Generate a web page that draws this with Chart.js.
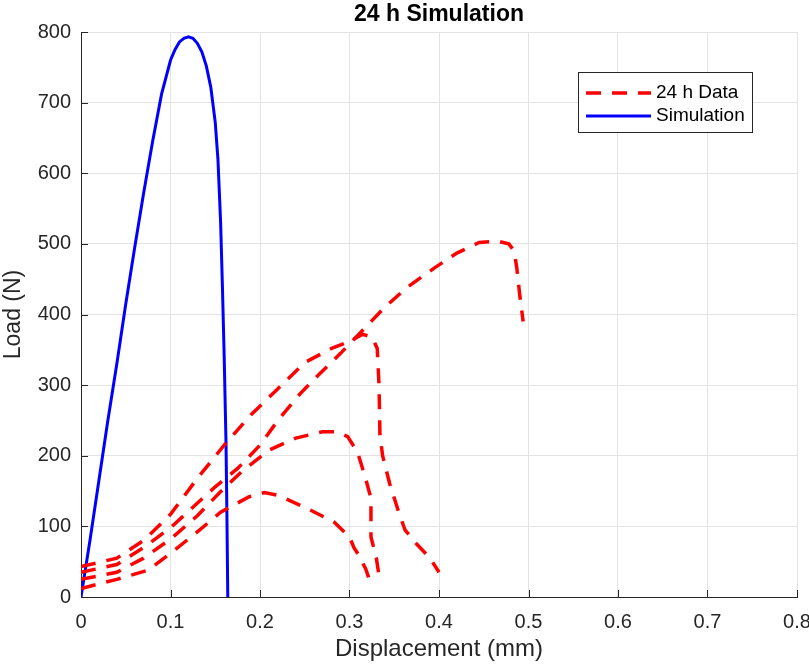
<!DOCTYPE html>
<html>
<head>
<meta charset="utf-8">
<script src="https://cdn.jsdelivr.net/npm/chart.js@4.4.1/dist/chart.umd.min.js"></script>
<style>
  html, body { margin: 0; padding: 0; background: #fff; }
  #wrap { width: 809px; height: 664px; }
</style>
</head>
<body>
<div id="wrap"><canvas id="load-chart" width="809" height="664"></canvas></div>
<script>
// Simulation curve (displacement in mm, load in N)
const simX = [0, 0.01, 0.02, 0.03, 0.04, 0.05, 0.06, 0.07, 0.08, 0.09, 0.1, 0.105, 0.11, 0.115, 0.12, 0.125, 0.13, 0.135, 0.14, 0.145, 0.15, 0.153, 0.156, 0.158, 0.16, 0.162, 0.163, 0.164];
const simLoad = [0, 80, 165, 250, 330, 415, 495, 572, 645, 712, 760, 775, 786, 791, 793, 791, 784, 772, 752, 722, 672, 620, 530, 440, 340, 220, 120, 0];

// 24 h test specimens
const specAX = [0, 0.04, 0.07, 0.1, 0.125, 0.15, 0.175, 0.2, 0.22, 0.245, 0.265, 0.29, 0.315, 0.34, 0.365, 0.395, 0.42, 0.445, 0.465, 0.478, 0.484, 0.487, 0.49, 0.494];
const specALoad = [35, 46, 70, 98, 127, 156, 182, 215, 250, 288, 314, 345, 378, 411, 439, 466, 487, 502, 504, 500, 490, 465, 430, 390];

const specBX = [0, 0.04, 0.07, 0.1, 0.13, 0.16, 0.19, 0.22, 0.25, 0.28, 0.3, 0.315, 0.325, 0.331, 0.333, 0.334, 0.337, 0.345, 0.355, 0.362, 0.375, 0.39, 0.4];
const specBLoad = [43, 55, 80, 117, 168, 215, 258, 295, 332, 352, 362, 372, 368, 352, 300, 230, 200, 160, 120, 95, 75, 55, 35];

const specCX = [0, 0.04, 0.07, 0.1, 0.13, 0.155, 0.18, 0.21, 0.24, 0.27, 0.285, 0.298, 0.309, 0.317, 0.324, 0.324, 0.33, 0.333];
const specCLoad = [25, 35, 55, 82, 115, 148, 178, 208, 225, 234, 234, 227, 205, 172, 140, 85, 55, 30];

const specDX = [0, 0.04, 0.075, 0.1, 0.128, 0.156, 0.188, 0.205, 0.22, 0.25, 0.283, 0.3, 0.305, 0.31, 0.318, 0.323];
const specDLoad = [12, 25, 38, 62, 90, 120, 142, 148, 144, 127, 106, 85, 70, 60, 40, 22];

const xTicks = [0, 0.1, 0.2, 0.3, 0.4, 0.5, 0.6, 0.7, 0.8];
const yTicks = [0, 100, 200, 300, 400, 500, 600, 700, 800];

const axisColor = '#262626';
const fontFamily = '"Liberation Sans", Arial, sans-serif';
const dataDash = [15, 11];

function toPoints(xs, ys) {
    return xs.map((x, i) => ({ x: x, y: ys[i] }));
}

function dataSet(label, xs, ys) {
    return {
        label: label,
        data: toPoints(xs, ys),
        borderColor: '#ff0000',
        borderWidth: 3.5,
        borderDash: dataDash,
        pointRadius: 0,
        showLine: true,
        fill: false,
        tension: 0
    };
}

// inward tick marks on the left and bottom axes
const innerTicks = {
    id: 'innerTicks',
    beforeDatasetsDraw(chart) {
        const ctx = chart.ctx;
        const area = chart.chartArea;
        const xs = chart.scales.x, ys = chart.scales.y;
        ctx.save();
        ctx.strokeStyle = axisColor;
        ctx.lineWidth = 1;
        ctx.beginPath();
        xTicks.forEach(v => {
            const px = Math.round(xs.getPixelForValue(v)) + 0.5;
            ctx.moveTo(px, area.bottom);
            ctx.lineTo(px, area.bottom - 7);
        });
        yTicks.forEach(v => {
            const py = Math.round(ys.getPixelForValue(v)) + 0.5;
            ctx.moveTo(area.left, py);
            ctx.lineTo(area.left + 7, py);
        });
        ctx.stroke();
        ctx.restore();
    }
};

// title centred over the plot area
const plotTitle = {
    id: 'plotTitle',
    afterDraw(chart) {
        const ctx = chart.ctx;
        const area = chart.chartArea;
        ctx.save();
        ctx.fillStyle = '#000000';
        ctx.font = 'bold 23px ' + fontFamily;
        ctx.textAlign = 'center';
        ctx.textBaseline = 'middle';
        ctx.fillText('24 h Simulation', (area.left + area.right) / 2, 15);
        ctx.restore();
    }
};

// boxed legend in the upper right of the plot
const boxLegend = {
    id: 'boxLegend',
    afterDraw(chart) {
        const ctx = chart.ctx;
        const x0 = 578, y0 = 72, w = 174, h = 60;
        ctx.save();
        ctx.fillStyle = '#ffffff';
        ctx.fillRect(x0, y0, w, h);
        ctx.strokeStyle = axisColor;
        ctx.lineWidth = 1;
        ctx.strokeRect(x0 + 0.5, y0 + 0.5, w, h);

        ctx.lineWidth = 3.5;
        ctx.strokeStyle = '#ff0000';
        ctx.setLineDash(dataDash);
        ctx.beginPath();
        ctx.moveTo(586, 93);
        ctx.lineTo(651, 93);
        ctx.stroke();

        ctx.setLineDash([]);
        ctx.lineWidth = 3;
        ctx.strokeStyle = '#0000ff';
        ctx.beginPath();
        ctx.moveTo(586, 116);
        ctx.lineTo(651, 116);
        ctx.stroke();

        ctx.fillStyle = '#000000';
        ctx.font = '19px ' + fontFamily;
        ctx.textBaseline = 'middle';
        ctx.fillText('24 h Data', 656, 93);
        ctx.fillText('Simulation', 656, 116);
        ctx.restore();
    }
};

const ctx = document.getElementById('load-chart').getContext('2d');

new Chart(ctx, {
    type: 'scatter',
    data: {
        datasets: [
            dataSet('24 h Data', specAX, specALoad),
            dataSet('24 h Data B', specBX, specBLoad),
            dataSet('24 h Data C', specCX, specCLoad),
            dataSet('24 h Data D', specDX, specDLoad),
            {
                label: 'Simulation',
                data: toPoints(simX, simLoad),
                borderColor: '#0000ff',
                borderWidth: 3,
                pointRadius: 0,
                showLine: true,
                fill: false,
                tension: 0
            }
        ]
    },
    options: {
        responsive: false,
        animation: false,
        devicePixelRatio: 1,
        layout: { padding: { left: 0, right: 12, top: 32, bottom: 0 } },
        plugins: {
            legend: { display: false },
            tooltip: { enabled: false },
            title: { display: false }
        },
        scales: {
            x: {
                type: 'linear',
                min: 0,
                max: 0.8,
                afterBuildTicks(scale) {
                    scale.ticks = xTicks.map(v => ({ value: v }));
                },
                afterFit(scale) {
                    scale.height = 67;
                    scale.paddingLeft = 0;
                    scale.paddingRight = 0;
                },
                grid: { color: '#e3e3e3', drawTicks: false },
                border: { display: true, color: axisColor, width: 1 },
                ticks: {
                    color: axisColor,
                    padding: 13,
                    font: { family: fontFamily, size: 20 },
                    callback: v => String(v)
                },
                title: {
                    display: true,
                    text: 'Displacement (mm)',
                    color: axisColor,
                    font: { family: fontFamily, size: 24 },
                    padding: { top: 0, bottom: 0 }
                }
            },
            y: {
                type: 'linear',
                min: 0,
                max: 800,
                afterBuildTicks(scale) {
                    scale.ticks = yTicks.map(v => ({ value: v }));
                },
                afterFit(scale) {
                    scale.width = 81;
                    scale.paddingTop = 0;
                    scale.paddingBottom = 0;
                },
                grid: { color: '#e3e3e3', drawTicks: false },
                border: { display: true, color: axisColor, width: 1 },
                ticks: {
                    color: axisColor,
                    padding: 10,
                    font: { family: fontFamily, size: 20 }
                },
                title: {
                    display: true,
                    text: 'Load (N)',
                    color: axisColor,
                    font: { family: fontFamily, size: 23 },
                    padding: { top: 0, bottom: 0 }
                }
            }
        }
    },
    plugins: [innerTicks, plotTitle, boxLegend]
});
</script>
</body>
</html>
